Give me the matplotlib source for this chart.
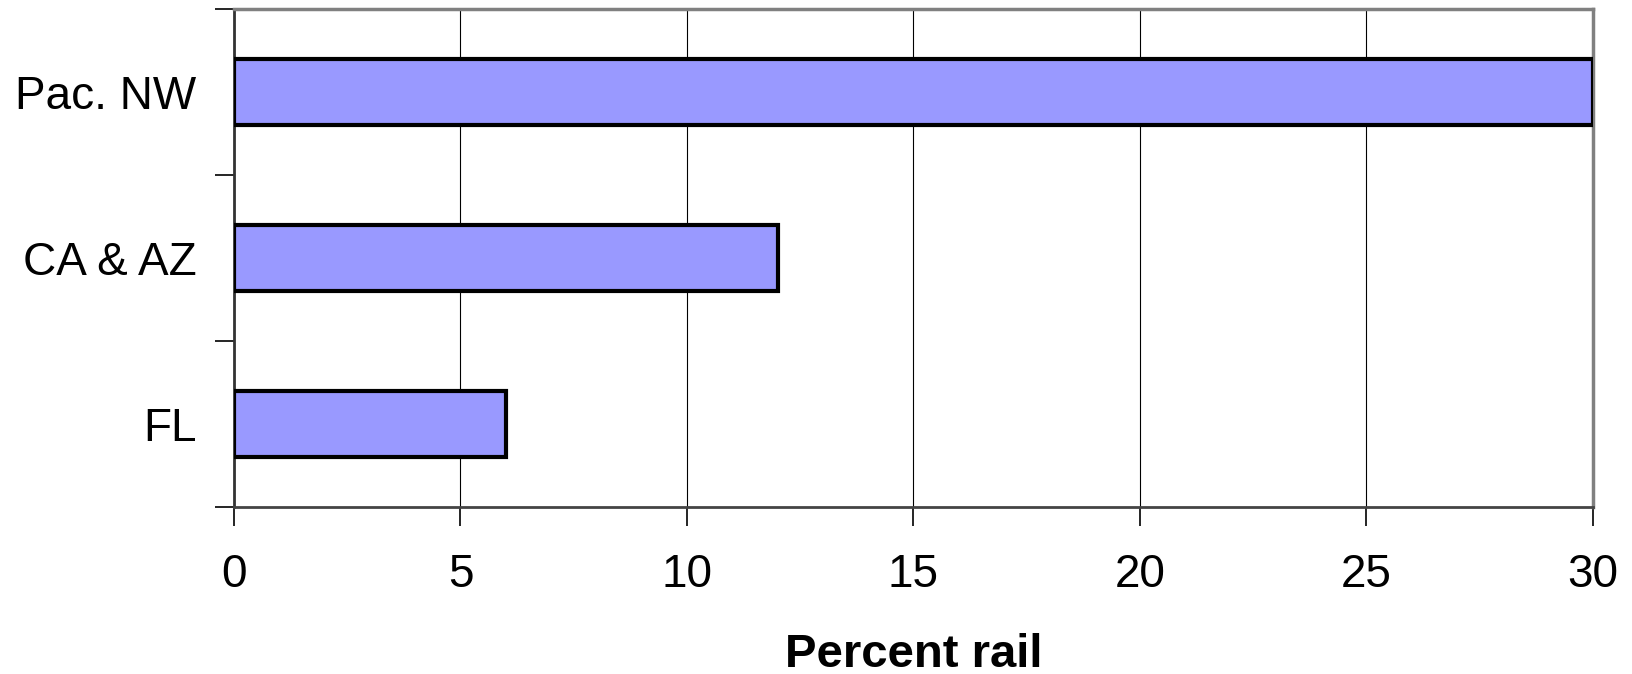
import matplotlib
matplotlib.use("Agg")
import matplotlib.pyplot as plt

categories = ["Pac. NW", "CA & AZ", "FL"]
values = [30, 12, 6]
xticks = [0, 5, 10, 15, 20, 25, 30]

plt.rcParams['font.family'] = ['Liberation Sans', 'DejaVu Sans']

fig = plt.figure(figsize=(16.33, 6.74), dpi=100)
ax = fig.add_axes([234/1633, 1 - 507/674, (1593-234)/1633, (507-9)/674])

ypos = [2, 1, 0]
ax.barh(ypos, values, height=0.4, color="#9999FF", edgecolor="black", linewidth=3, zorder=3)

ax.set_xlim(0, 30)
ax.set_ylim(-0.5, 2.5)
ax.set_xticks(xticks)
ax.set_xticklabels([str(t) for t in xticks], fontsize=33)
ax.set_yticks(ypos)
ax.set_yticklabels(categories, fontsize=33)
ax.set_yticks([-0.5, 0.5, 1.5, 2.5], minor=True)
ax.tick_params(axis='y', which='major', length=0, pad=27)
ax.tick_params(axis='y', which='minor', length=14, width=1.2, color='black', direction='out')
ax.tick_params(axis='x', which='major', length=14, width=1.2, color='black', direction='out', pad=19)

ax.grid(axis='x', color='black', linewidth=0.8, zorder=0)
for s in ['top', 'right']:
    ax.spines[s].set_color('#808080')
    ax.spines[s].set_linewidth(2.5)
ax.spines['left'].set_color('#333333')
ax.spines['left'].set_linewidth(2)
ax.spines['bottom'].set_color('#444444')
ax.spines['bottom'].set_linewidth(2)

ax.set_xlabel("Percent rail", fontsize=34, fontweight='bold', labelpad=26)

fig.savefig("out.png", dpi=100)
